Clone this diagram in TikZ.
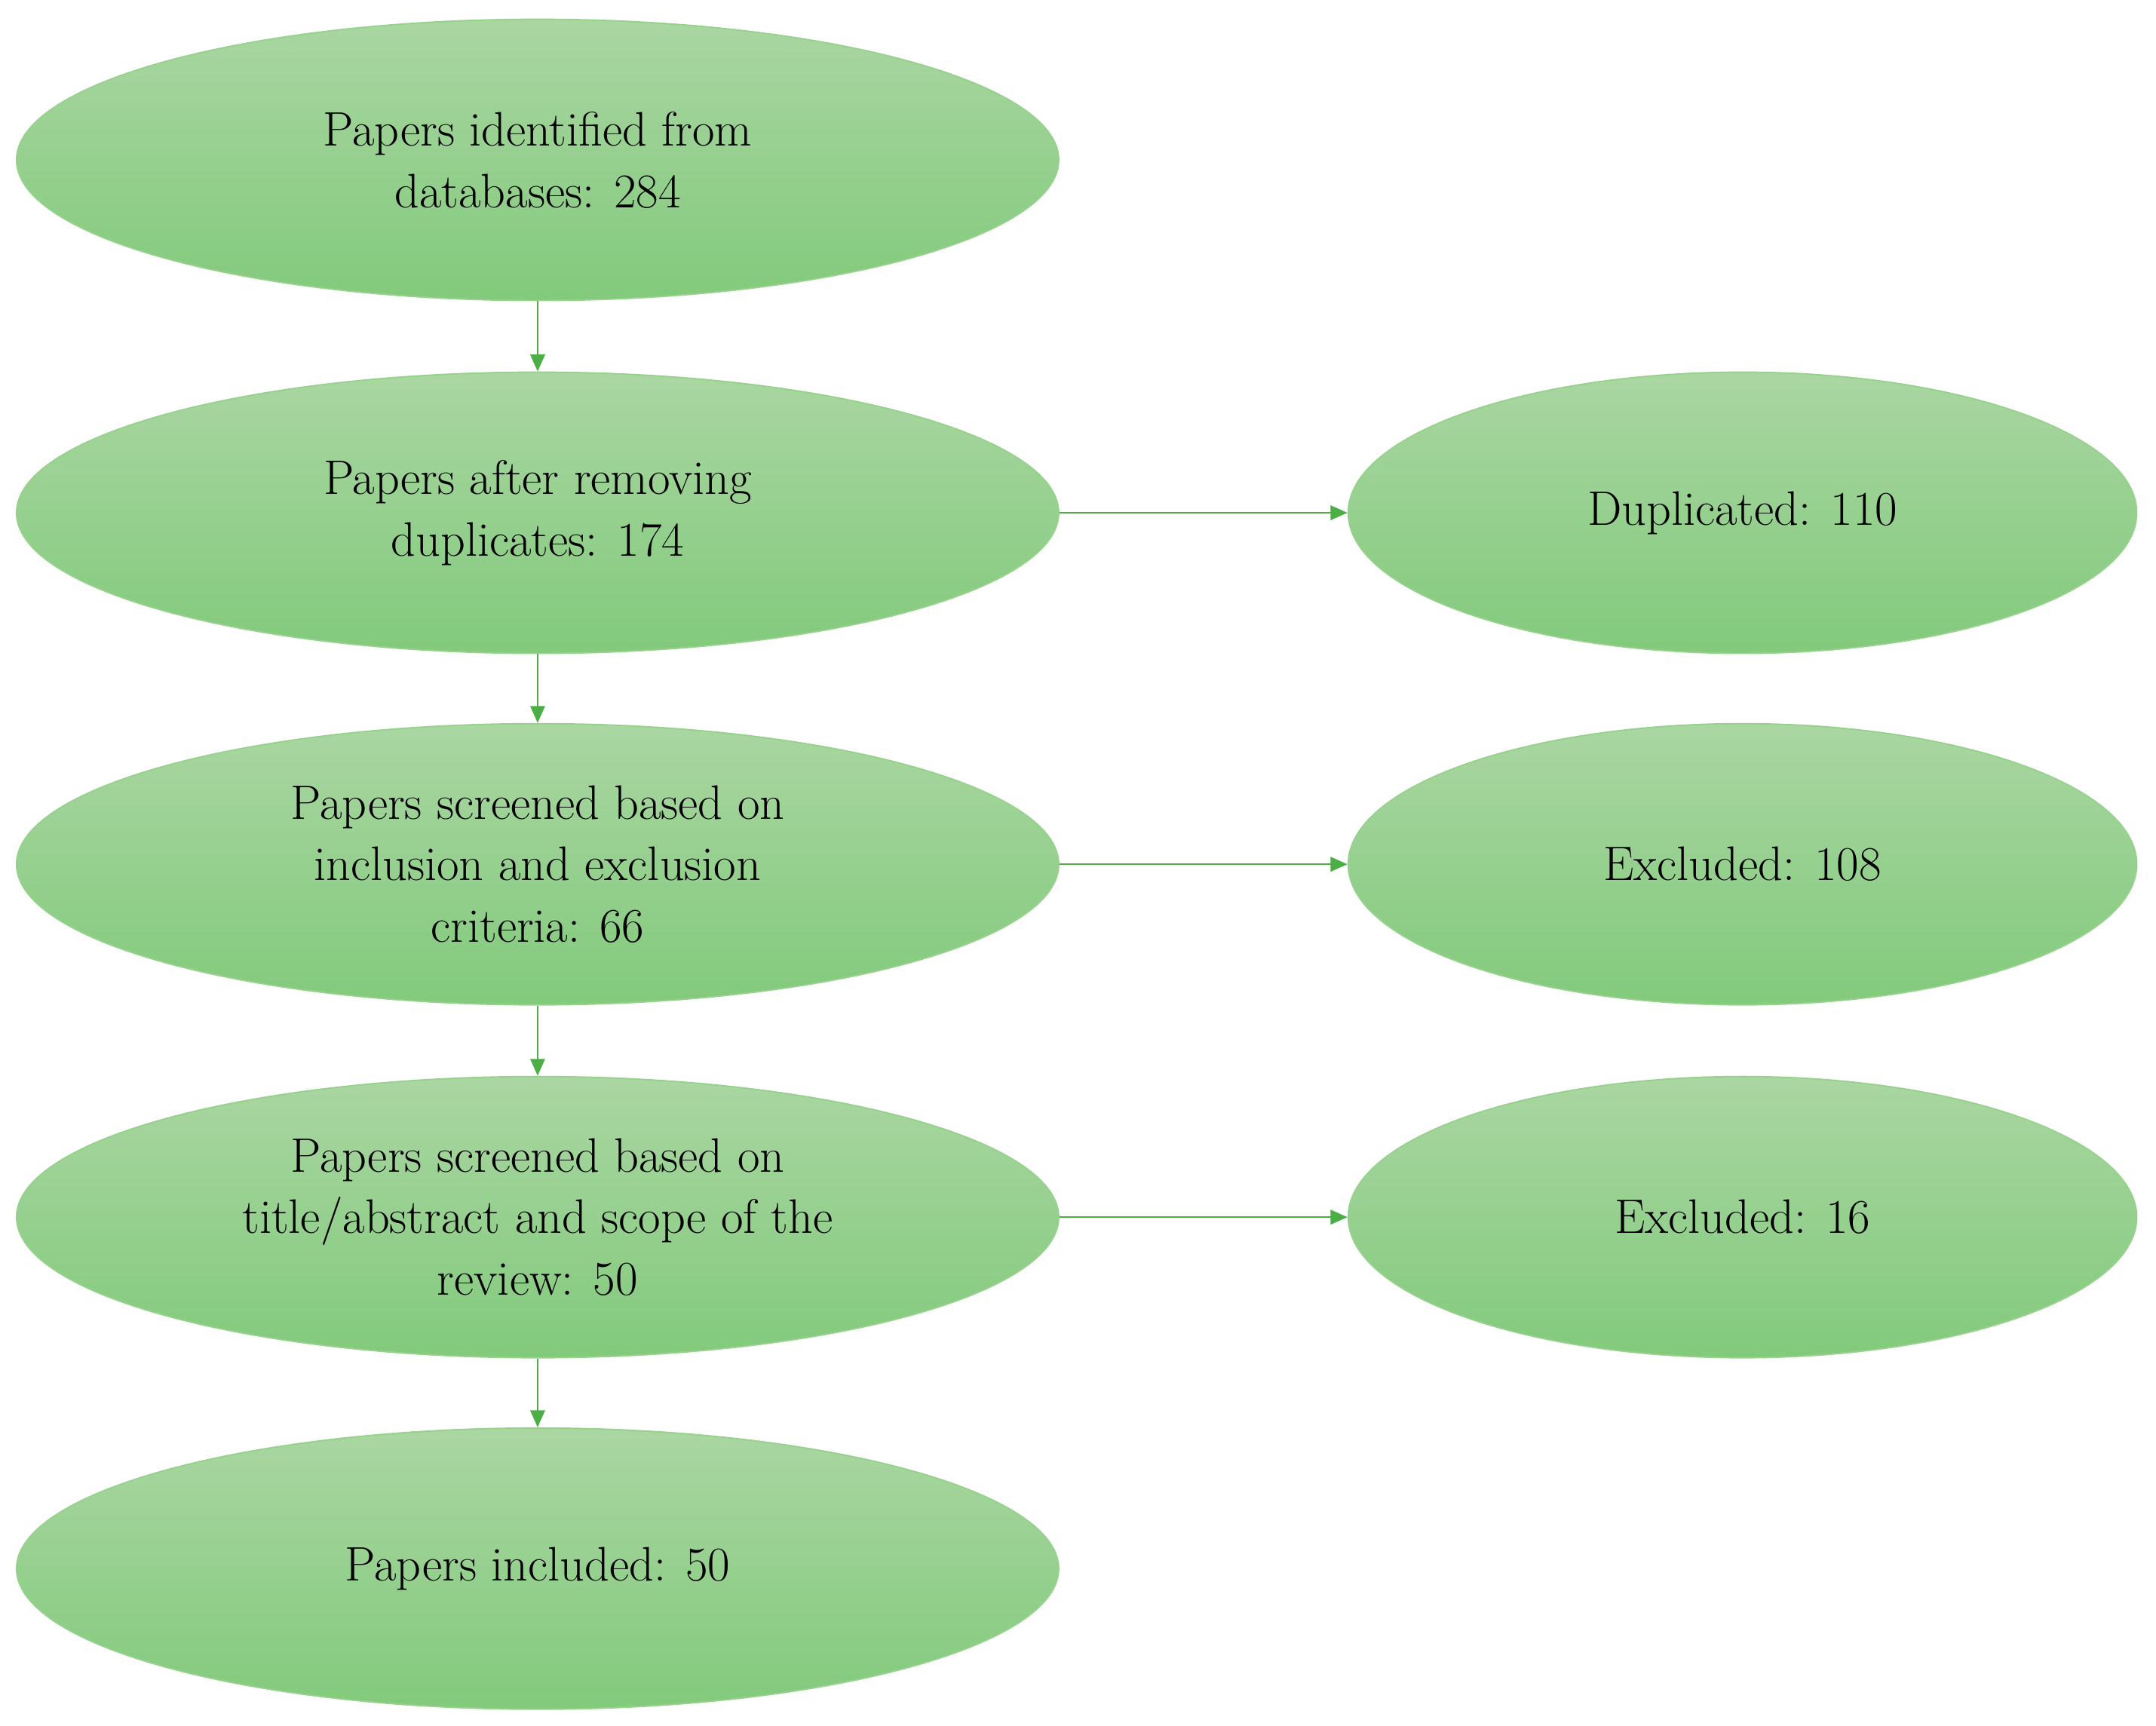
\documentclass[tikz,border=0pt]{standalone}
\usetikzlibrary{shapes.geometric,arrows.meta}
\begin{document}
\begin{tikzpicture}[x=0.02cm,y=-0.02cm,
 ell/.style={ellipse,inner sep=0pt,top color=green!22!lime!30!white!80!black!0,shading angle=0,
   top color={rgb,255:red,170;green,214;blue,162},bottom color={rgb,255:red,130;green,202;blue,124},
   draw={rgb,255:red,150;green,210;blue,140},line width=0.6pt,align=center,
   font=\fontsize{20}{25.5}\selectfont},
 L/.style={ell,minimum width=756*0.02cm,minimum height=204*0.02cm},
 R/.style={ell,minimum width=572*0.02cm,minimum height=204*0.02cm},
 arr/.style={draw={rgb,255:red,76;green,175;blue,70},line width=0.8pt,-{Triangle[length=7pt,width=6pt]}}]
\useasboundingbox (0,0) rectangle (1564,1252);
\node[L] (a) at (390,116) {Papers identified from\\databases: 284};
\node[L] (b) at (390,372) {Papers after removing\\duplicates: 174};
\node[L] (c) at (390,627) {Papers screened based on\\inclusion and exclusion\\criteria: 66};
\node[L] (d) at (390,883) {Papers screened based on\\title/abstract and scope of the\\review: 50};
\node[L] (e) at (390,1138) {Papers included: 50};
\node[R] (f) at (1264,372) {Duplicated: 110};
\node[R] (g) at (1264,627) {Excluded: 108};
\node[R] (h) at (1264,883) {Excluded: 16};
\draw[arr] (a) -- (b);
\draw[arr] (b) -- (c);
\draw[arr] (c) -- (d);
\draw[arr] (d) -- (e);
\draw[arr] (b) -- (f);
\draw[arr] (c) -- (g);
\draw[arr] (d) -- (h);
\end{tikzpicture}
\end{document}
